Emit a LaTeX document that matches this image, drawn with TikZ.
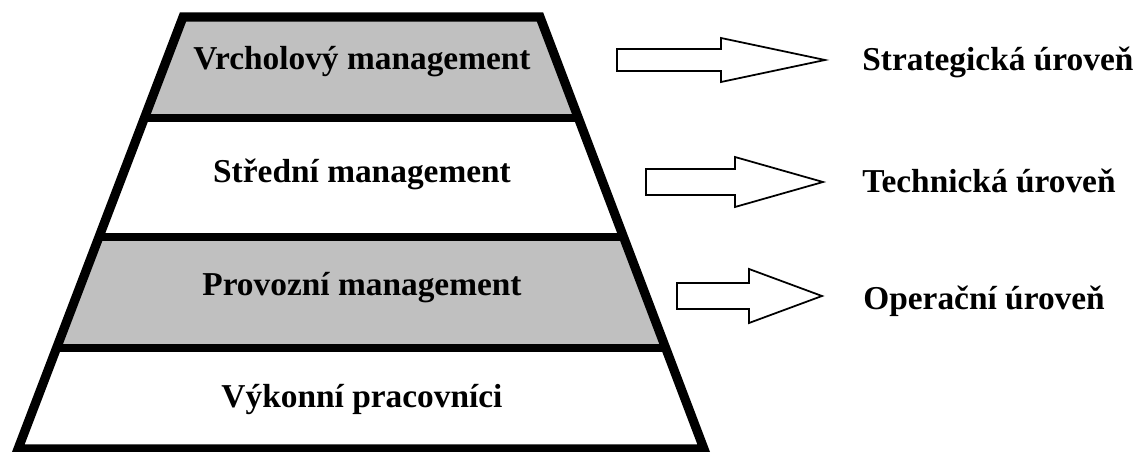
\documentclass[tikz,border=0pt]{standalone}
\usepackage{fontspec}
\setmainfont{Liberation Serif}
\definecolor{bandgray}{HTML}{C0C0C0}
\def\blockarrow(#1,#2)(#3:#4:#5:#6){\draw[levelarrow] (#1,#2-#5) -- (#3,#2-#5) -- (#3,#2-#6) -- (#4,#2) -- (#3,#2+#6) -- (#3,#2+#5) -- (#1,#2+#5) -- cycle;}
\tikzset{
	leveltext/.style={font=\fontsize{19}{23}\selectfont\bfseries, inner sep=0pt},
	sepline/.style={line width=4.8pt, color=black},
	outline/.style={line width=5.2pt, color=black, line join=miter},
	levelarrow/.style={line width=1pt, color=black, fill=white, line join=miter}
}

\begin{document}
\begin{tikzpicture}[x=0.02cm, y=-0.02cm]
		%%%%% START %%%%%
		\useasboundingbox (0, 0) rectangle (1143, 452);
		
		\fill[bandgray] (183, 17) -- (540, 17) -- (578.3, 118) -- (144.4, 118) -- cycle;
		\fill[bandgray] (99, 237) -- (623.5, 237) -- (665.6, 348) -- (56.6, 348) -- cycle;
		
		\draw[sepline] (144.4, 118) -- (578.3, 118);
		\draw[sepline] (99, 237) -- (623.5, 237);
		\draw[sepline] (56.6, 348) -- (665.6, 348);
		\draw[outline] (183, 17) -- (540, 17) -- (704, 449) -- (18, 449) -- cycle;
		
		\node[leveltext, anchor=base] (vrchol) at (362, 70) {Vrcholový management};
		\node[leveltext, anchor=base] (stred) at (362, 183) {Střední management};
		\node[leveltext, anchor=base] (provoz) at (362, 296) {Provozní management};
		\node[leveltext, anchor=base] (vykon) at (362, 408) {Výkonní pracovníci};
		
		\blockarrow(617, 60)(721:825:11:22)
		\blockarrow(646, 182)(735:823:13:25)
		\blockarrow(677, 296)(749:822:13:27)
		
		\node[leveltext, anchor=base west] (strat) at (862, 71) {Strategická úroveň};
		\node[leveltext, anchor=base west] (tech) at (862, 193) {Technická úroveň};
		\node[leveltext, anchor=base west] (oper) at (863, 310) {Operační úroveň};
		%%%%% END %%%%%
	\end{tikzpicture}
\end{document}
